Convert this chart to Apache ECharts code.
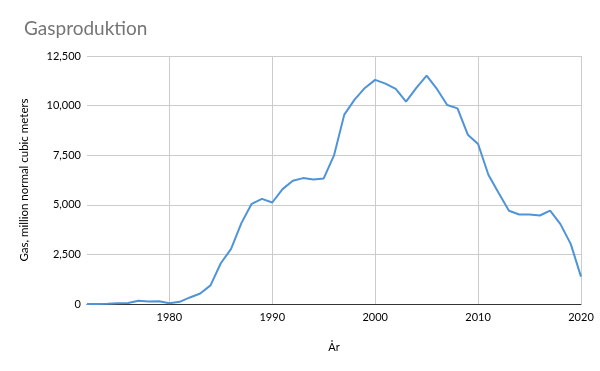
<!DOCTYPE html>
<html><head><meta charset="utf-8">
<script src="https://cdn.jsdelivr.net/npm/echarts@6/dist/echarts.min.js"></script>
<style>html,body{margin:0;padding:0;background:#fff}#c{width:600px;height:371px}</style>
</head><body><div id="c"></div>
<script>
const years = [1972,1973,1974,1975,1976,1977,1978,1979,1980,1981,1982,1983,1984,1985,1986,1987,1988,1989,1990,1991,1992,1993,1994,1995,1996,1997,1998,1999,2000,2001,2002,2003,2004,2005,2006,2007,2008,2009,2010,2011,2012,2013,2014,2015,2016,2017,2018,2019,2020];
const gas = [0,0,10,40,50,160,130,140,40,110,330,530,940,2055,2780,4075,5050,5300,5116,5790,6210,6345,6280,6330,7490,9545,10300,10890,11295,11110,10840,10200,10890,11510,10840,10030,9860,8535,8065,6515,5590,4700,4510,4510,4460,4710,4025,3030,1380];
const xTicks = [1980,1990,2000,2010,2020];
const title = "Gasproduktion";
const xName = "År";
const yName = "Gas, million normal cubic meters";
const font = "Lato, 'Open Sans', sans-serif";
const chart = echarts.init(document.getElementById('c'));
chart.setOption({
  animation:false,
  title:{text:title,left:19,top:14,textStyle:{fontFamily:font,fontSize:19,fontWeight:'normal',color:'#757575'}},
  grid:{left:87,right:19,top:56,bottom:67},
  xAxis:{type:'value',min:1972,max:2020,
    name:xName,nameLocation:'middle',nameGap:38,
    nameTextStyle:{fontFamily:font,fontSize:11,color:'#000'},
    axisLine:{lineStyle:{color:'#333',width:1}},
    axisTick:{show:false,customValues:xTicks},
    axisLabel:{fontFamily:font,fontSize:11,color:'#000',margin:8,
      customValues:xTicks,formatter:v=>String(v)},
    splitLine:{show:true,lineStyle:{color:'#ccc',width:1}}
  },
  yAxis:{type:'value',min:0,max:12500,interval:2500,
    name:yName,nameLocation:'middle',nameGap:57,
    nameTextStyle:{fontFamily:font,fontSize:11.5,color:'#000'},
    axisLine:{show:false},axisTick:{show:false},
    axisLabel:{fontFamily:font,fontSize:11,color:'#000',margin:6,
      formatter:v=>v.toLocaleString('en-US')},
    splitLine:{lineStyle:{color:'#ccc',width:1}}
  },
  series:[{type:'line',data:years.map((y,i)=>[y,gas[i]]),showSymbol:false,
    lineStyle:{color:'#4f93d8',width:2},itemStyle:{color:'#4f93d8'}}]
});
</script></body></html>
